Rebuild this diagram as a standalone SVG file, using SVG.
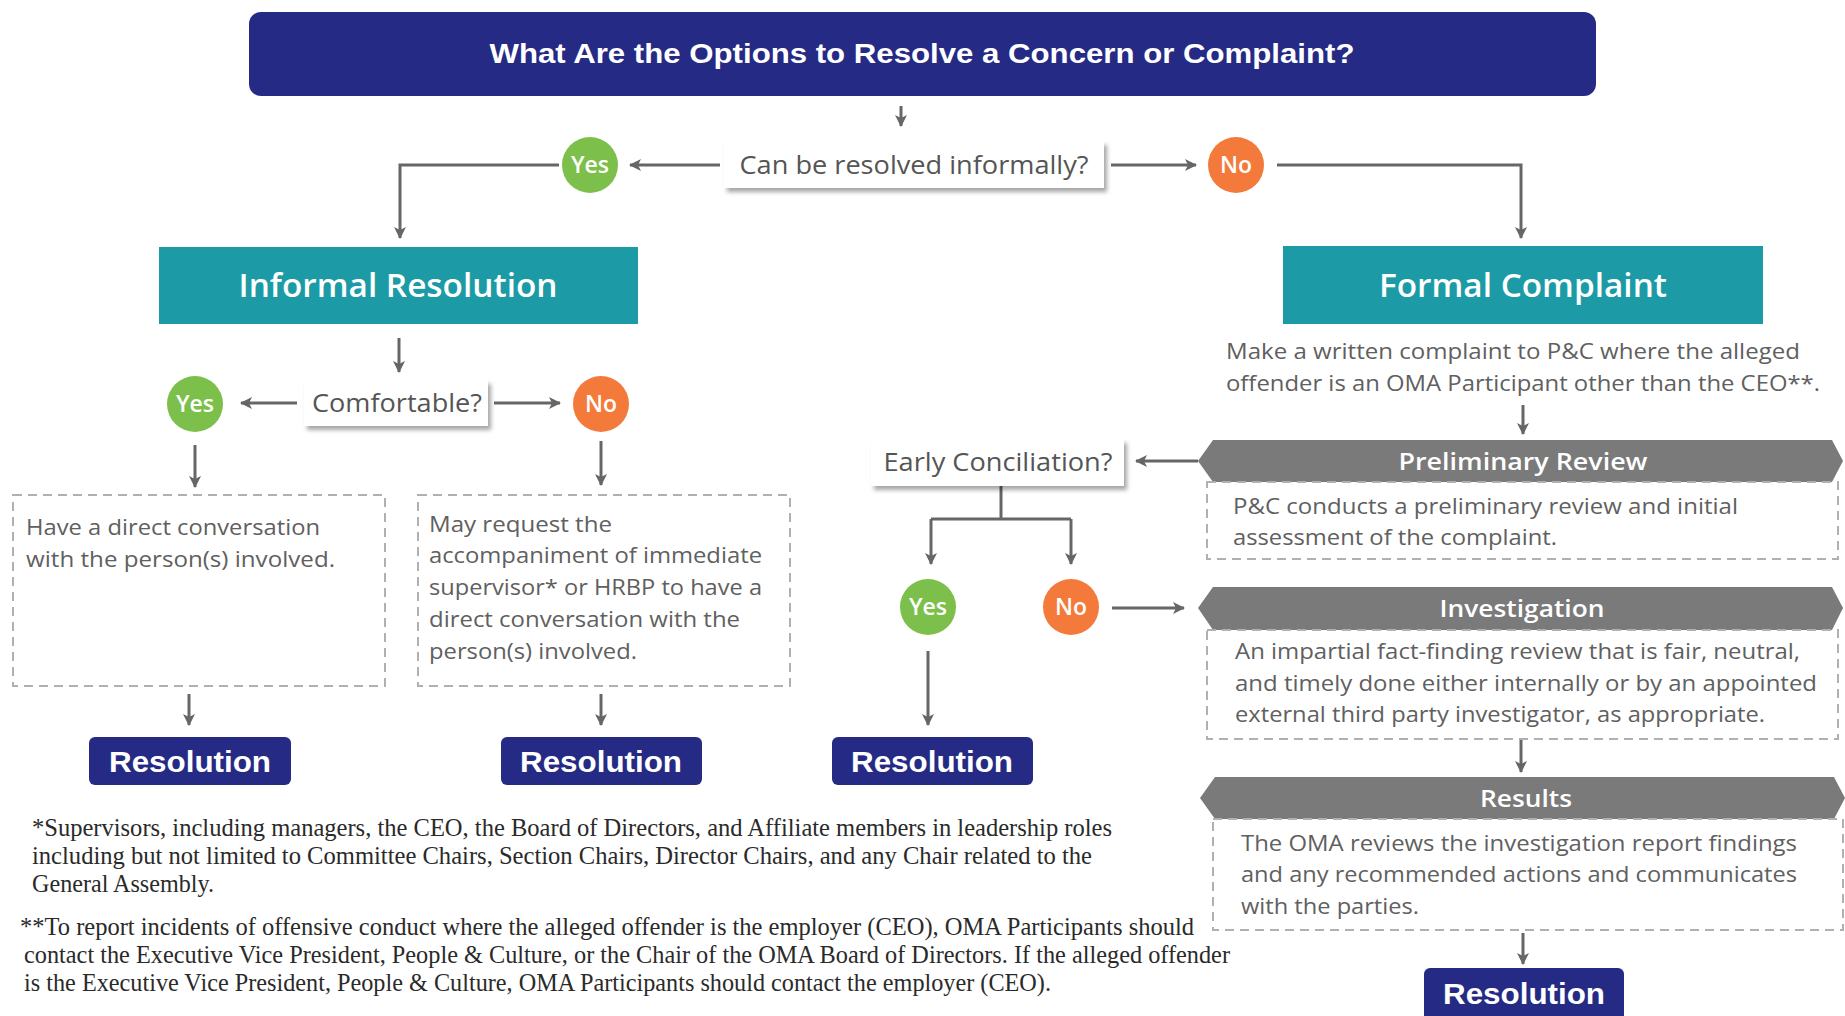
<svg xmlns="http://www.w3.org/2000/svg" width="1845" height="1016" viewBox="0 0 1845 1016">
  <defs>
    <marker id="arrow" viewBox="0 0 12 12" refX="11" refY="6" markerWidth="12" markerHeight="12" markerUnits="userSpaceOnUse" orient="auto">
      <path d="M0,0 L12,6 L0,12 L3,6 z" fill="#666666"/>
    </marker>
    <filter id="shadow" x="-10%" y="-20%" width="130%" height="160%">
      <feDropShadow dx="3" dy="4" stdDeviation="2" flood-color="#000000" flood-opacity="0.35"/>
    </filter>
    <style>
      .navy { fill: #252a85; }
      .teal { fill: #1c9ba6; }
      .banner { fill: #7a7a7a; }
      .dash { fill: #ffffff; stroke: #b0b0b0; stroke-width: 2; stroke-dasharray: 9 6; }
      .qbox { fill: #ffffff; filter: url(#shadow); }
      .yes { fill: #7cc04b; }
      .no { fill: #f47a3c; }
      .conn { fill: none; stroke: #666666; stroke-width: 3; }
      .arr { marker-end: url(#arrow); }
      .title { font-family: "Liberation Sans", Arial, sans-serif; font-weight: 700; font-size: 28px; fill: #ffffff; text-anchor: middle; }
      .res { font-family: "Liberation Sans", Arial, sans-serif; font-weight: 700; font-size: 30px; fill: #ffffff; text-anchor: middle; }
      .head { font-family: "Open Sans", "DejaVu Sans", sans-serif; font-weight: 600; font-size: 32px; fill: #ffffff; text-anchor: middle; }
      .bhead { font-family: "Open Sans", "DejaVu Sans", sans-serif; font-weight: 600; font-size: 24px; fill: #ffffff; text-anchor: middle; }
      .q { font-family: "Open Sans", "DejaVu Sans", sans-serif; font-size: 25px; fill: #555555; text-anchor: middle; }
      .yn { font-family: "Open Sans", "DejaVu Sans", sans-serif; font-weight: 600; font-size: 23px; fill: #ffffff; text-anchor: middle; }
      .body { font-family: "Open Sans", "DejaVu Sans", sans-serif; font-size: 22px; fill: #606060; }
      .note { font-family: "Liberation Serif", "Times New Roman", serif; font-size: 25px; fill: #2a2a2a; }
    </style>
  </defs>

  <rect width="1845" height="1016" fill="#ffffff"/>

  <!-- connectors -->
  <g id="connectors">
    <path class="conn arr" d="M901,106 V126"/>
    <path class="conn arr" d="M720,165 H630"/>
    <path class="conn arr" d="M559,165 H400 V238"/>
    <path class="conn arr" d="M1111,165 H1196"/>
    <path class="conn arr" d="M1277,165 H1521 V238"/>
    <path class="conn arr" d="M399,338 V372"/>
    <path class="conn arr" d="M297,403 H241"/>
    <path class="conn arr" d="M494,403 H560"/>
    <path class="conn arr" d="M195,445 V487"/>
    <path class="conn arr" d="M601,441 V485"/>
    <path class="conn arr" d="M189,694 V725"/>
    <path class="conn arr" d="M601,694 V725"/>
    <path class="conn arr" d="M1523,405 V434"/>
    <path class="conn arr" d="M1198,461 H1136"/>
    <path class="conn" d="M1001,486 V519 M931,519 H1071"/>
    <path class="conn arr" d="M931,519 V564"/>
    <path class="conn arr" d="M1071,519 V564"/>
    <path class="conn arr" d="M1112,608 H1184"/>
    <path class="conn arr" d="M928,651 V725"/>
    <path class="conn arr" d="M1521,739 V772"/>
    <path class="conn arr" d="M1523,933 V964"/>
  </g>

  <!-- heading -->
  <g id="title">
    <rect class="navy" x="249" y="12" width="1347" height="84" rx="12"/>
    <text class="title" x="922" y="63" textLength="865" lengthAdjust="spacingAndGlyphs">What Are the Options to Resolve a Concern or Complaint?</text>
  </g>

  <g id="q-informal">
    <rect class="qbox" x="724" y="141" width="380" height="47"/>
    <text class="q" x="914" y="174" textLength="349" lengthAdjust="spacingAndGlyphs">Can be resolved informally?</text>
  </g>
  <g id="yes-1">
    <circle class="yes" cx="590" cy="165" r="28"/>
    <text class="yn" x="590" y="173">Yes</text>
  </g>
  <g id="no-1">
    <circle class="no" cx="1236" cy="165" r="28"/>
    <text class="yn" x="1236" y="173">No</text>
  </g>

  <!-- informal branch -->
  <g id="informal-resolution">
    <rect class="teal" x="159" y="247" width="479" height="77"/>
    <text class="head" x="398" y="297" textLength="319" lengthAdjust="spacingAndGlyphs">Informal Resolution</text>
  </g>
  <g id="q-comfortable">
    <rect class="qbox" x="304" y="380" width="184" height="46"/>
    <text class="q" x="397" y="412" textLength="170" lengthAdjust="spacingAndGlyphs">Comfortable?</text>
  </g>
  <g id="yes-2">
    <circle class="yes" cx="195" cy="404" r="28"/>
    <text class="yn" x="195" y="412">Yes</text>
  </g>
  <g id="no-2">
    <circle class="no" cx="601" cy="404" r="28"/>
    <text class="yn" x="601" y="412">No</text>
  </g>
  <g id="direct-conversation">
    <rect class="dash" x="13" y="495" width="372" height="191"/>
    <text class="body" x="26" y="535" textLength="294" lengthAdjust="spacingAndGlyphs">Have a direct conversation</text>
    <text class="body" x="26" y="567" textLength="309" lengthAdjust="spacingAndGlyphs">with the person(s) involved.</text>
  </g>
  <g id="accompanied-conversation">
    <rect class="dash" x="418" y="495" width="372" height="191"/>
    <text class="body" x="429" y="532" textLength="183" lengthAdjust="spacingAndGlyphs">May request the</text>
    <text class="body" x="429" y="563" textLength="333" lengthAdjust="spacingAndGlyphs">accompaniment of immediate</text>
    <text class="body" x="429" y="595" textLength="333" lengthAdjust="spacingAndGlyphs">supervisor* or HRBP to have a</text>
    <text class="body" x="429" y="627" textLength="311" lengthAdjust="spacingAndGlyphs">direct conversation with the</text>
    <text class="body" x="429" y="659" textLength="208" lengthAdjust="spacingAndGlyphs">person(s) involved.</text>
  </g>
  <g id="resolution-1">
    <rect class="navy" x="89" y="737" width="202" height="48" rx="6"/>
    <text class="res" x="190" y="772" textLength="162" lengthAdjust="spacingAndGlyphs">Resolution</text>
  </g>
  <g id="resolution-2">
    <rect class="navy" x="501" y="737" width="201" height="48" rx="6"/>
    <text class="res" x="601" y="772" textLength="162" lengthAdjust="spacingAndGlyphs">Resolution</text>
  </g>

  <!-- formal branch -->
  <g id="formal-complaint">
    <rect class="teal" x="1283" y="246" width="480" height="78"/>
    <text class="head" x="1523" y="297" textLength="288" lengthAdjust="spacingAndGlyphs">Formal Complaint</text>
    <text class="body" x="1226" y="359" textLength="574" lengthAdjust="spacingAndGlyphs">Make a written complaint to P&amp;C where the alleged</text>
    <text class="body" x="1226" y="391" textLength="594" lengthAdjust="spacingAndGlyphs">offender is an OMA Participant other than the CEO**.</text>
  </g>
  <g id="preliminary-review">
    <polygon class="banner" points="1198,461 1213,440 1832,440 1843,461 1832,482 1213,482"/>
    <text class="bhead" x="1523" y="470" textLength="249" lengthAdjust="spacingAndGlyphs">Preliminary Review</text>
    <rect class="dash" x="1207" y="482" width="631" height="77"/>
    <text class="body" x="1233" y="514" textLength="505" lengthAdjust="spacingAndGlyphs">P&amp;C conducts a preliminary review and initial</text>
    <text class="body" x="1233" y="545" textLength="324" lengthAdjust="spacingAndGlyphs">assessment of the complaint.</text>
  </g>
  <g id="q-early-conciliation">
    <rect class="qbox" x="871" y="439" width="253" height="47"/>
    <text class="q" x="998" y="471" textLength="229" lengthAdjust="spacingAndGlyphs">Early Conciliation?</text>
  </g>
  <g id="yes-3">
    <circle class="yes" cx="928" cy="607" r="28"/>
    <text class="yn" x="928" y="615">Yes</text>
  </g>
  <g id="no-3">
    <circle class="no" cx="1071" cy="607" r="28"/>
    <text class="yn" x="1071" y="615">No</text>
  </g>
  <g id="resolution-3">
    <rect class="navy" x="832" y="737" width="201" height="48" rx="6"/>
    <text class="res" x="932" y="772" textLength="162" lengthAdjust="spacingAndGlyphs">Resolution</text>
  </g>
  <g id="investigation">
    <polygon class="banner" points="1198,608 1213,587 1832,587 1843,608 1832,630 1213,630"/>
    <text class="bhead" x="1522" y="617" textLength="165" lengthAdjust="spacingAndGlyphs">Investigation</text>
    <rect class="dash" x="1207" y="630" width="631" height="109"/>
    <text class="body" x="1235" y="659" textLength="565" lengthAdjust="spacingAndGlyphs">An impartial fact-finding review that is fair, neutral,</text>
    <text class="body" x="1235" y="691" textLength="582" lengthAdjust="spacingAndGlyphs">and timely done either internally or by an appointed</text>
    <text class="body" x="1235" y="722" textLength="530" lengthAdjust="spacingAndGlyphs">external third party investigator, as appropriate.</text>
  </g>
  <g id="results">
    <polygon class="banner" points="1200,798 1215,777 1834,777 1845,798 1834,819 1215,819"/>
    <text class="bhead" x="1526" y="807" textLength="92" lengthAdjust="spacingAndGlyphs">Results</text>
    <rect class="dash" x="1213" y="819" width="630" height="111"/>
    <text class="body" x="1241" y="851" textLength="556" lengthAdjust="spacingAndGlyphs">The OMA reviews the investigation report findings</text>
    <text class="body" x="1241" y="882" textLength="556" lengthAdjust="spacingAndGlyphs">and any recommended actions and communicates</text>
    <text class="body" x="1241" y="914" textLength="178" lengthAdjust="spacingAndGlyphs">with the parties.</text>
  </g>
  <g id="resolution-4">
    <rect class="navy" x="1424" y="968" width="200" height="56" rx="6"/>
    <text class="res" x="1524" y="1004" textLength="162" lengthAdjust="spacingAndGlyphs">Resolution</text>
  </g>

  <!-- footnotes -->
  <g id="footnotes">
    <text class="note" x="32" y="836" textLength="1080" lengthAdjust="spacingAndGlyphs">*Supervisors, including managers, the CEO, the Board of Directors, and Affiliate members in leadership roles</text>
    <text class="note" x="32" y="864" textLength="1060" lengthAdjust="spacingAndGlyphs">including but not limited to Committee Chairs, Section Chairs, Director Chairs, and any Chair related to the</text>
    <text class="note" x="32" y="892" textLength="182" lengthAdjust="spacingAndGlyphs">General Assembly.</text>
    <text class="note" x="20" y="935" textLength="1174" lengthAdjust="spacingAndGlyphs">**To report incidents of offensive conduct where the alleged offender is the employer (CEO), OMA Participants should</text>
    <text class="note" x="24" y="963" textLength="1206" lengthAdjust="spacingAndGlyphs">contact the Executive Vice President, People &amp; Culture, or the Chair of the OMA Board of Directors. If the alleged offender</text>
    <text class="note" x="24" y="991" textLength="1027" lengthAdjust="spacingAndGlyphs">is the Executive Vice President, People &amp; Culture, OMA Participants should contact the employer (CEO).</text>
  </g>
</svg>
